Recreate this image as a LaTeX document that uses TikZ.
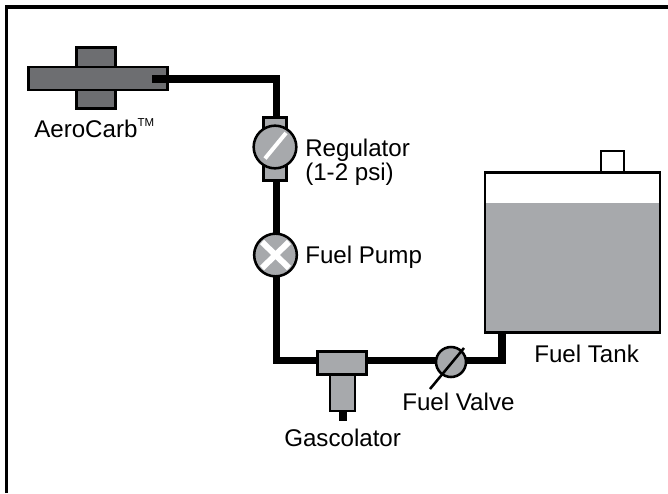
\documentclass[tikz,border=0pt]{standalone}
\usepackage{fontspec}
\setmainfont{Liberation Sans}
\definecolor{darkpart}{HTML}{6D6E71}
\definecolor{lightpart}{HTML}{A7A9AC}
\tikzset{
  part/.style={draw=black,line width=1.9pt,inner sep=0pt,rectangle},
  round part/.style={draw=black,line width=1.9pt,fill=lightpart,inner sep=0pt,circle},
  pipe/.style={line width=5.8pt,line join=miter},
  caption/.style={inner sep=0pt,anchor=base west,font=\fontsize{18.1pt}{21pt}\selectfont}
}
\begin{document}
\begin{tikzpicture}[x=0.75pt,y=-0.75pt]
   \useasboundingbox (0,0) rectangle (668,493);
   \draw[line width=2.4pt] (6.5,493) -- (6.5,7) -- (668,7);
   % pipe points
   \coordinate (carbend) at (152,79);
   \coordinate (corner) at (276.5,79);
   \coordinate (low) at (276.5,360.5);
   \coordinate (rise) at (502,360.5);
   \coordinate (stubend) at (343,421);
   % tank
   \node[part,line width=1.5pt,fill=white,minimum width=17pt,minimum height=16pt] (cap) at (612.5,161.5) {};
   \fill[lightpart] (484,203) rectangle (661,333);
   \node[part,minimum width=131.5pt,minimum height=120pt] (tank) at (572.5,252.5) {};
   % carb
   \node[part,fill=darkpart,minimum width=29.5pt,minimum height=46pt] (carbv) at (96,78) {};
   \node[part,fill=darkpart,minimum width=104pt,minimum height=17pt] (carb) at (98,78.5) {};
   % pipes
   \draw[pipe] (carbend) -- (corner) -- (low) -- (rise) -- (tank.south -| rise);
   \node[part,fill=lightpart,minimum width=37pt,minimum height=17pt] (glass) at (342,363) {};
   \node[part,fill=lightpart,minimum width=19pt,minimum height=27pt] (bowl) at (342.5,393) {};
   \draw[pipe] (bowl.south) ++(0.5,0) -- (stubend);
   \node[part,fill=lightpart,minimum width=17pt,minimum height=47pt] (regbody) at (275,149) {};
   \node[round part,minimum size=32pt] (regulator) at (275,147) {};
   \draw[white,line width=3pt] (265,158.5) -- (286,133);
   \node[round part,minimum size=32pt] (pump) at (275.5,255) {};
   \draw[white,line width=4.5pt] (262,242) -- (289,268) (289,242) -- (262,268);
   \node[round part,minimum size=22.5pt] (valve) at (451,362) {};
   \draw[line width=1.9pt] (430,389) -- (464,348);
   % labels
   \node[caption] (carblabel) at (34,137) {AeroCarb\raisebox{8.2pt}{\fontsize{8.6pt}{9pt}\selectfont TM}};
   \node[caption] (reglabel) at (305,156) {Regulator};
   \node[caption] (psilabel) at (305,180) {(1-2 psi)};
   \node[caption] (pumplabel) at (305,263) {Fuel Pump};
   \node[caption] (valvelabel) at (402,410) {Fuel Valve};
   \node[caption] (gaslabel) at (284,446) {Gascolator};
   \node[caption] (tanklabel) at (534,362) {Fuel Tank};
\end{tikzpicture}
\end{document}
